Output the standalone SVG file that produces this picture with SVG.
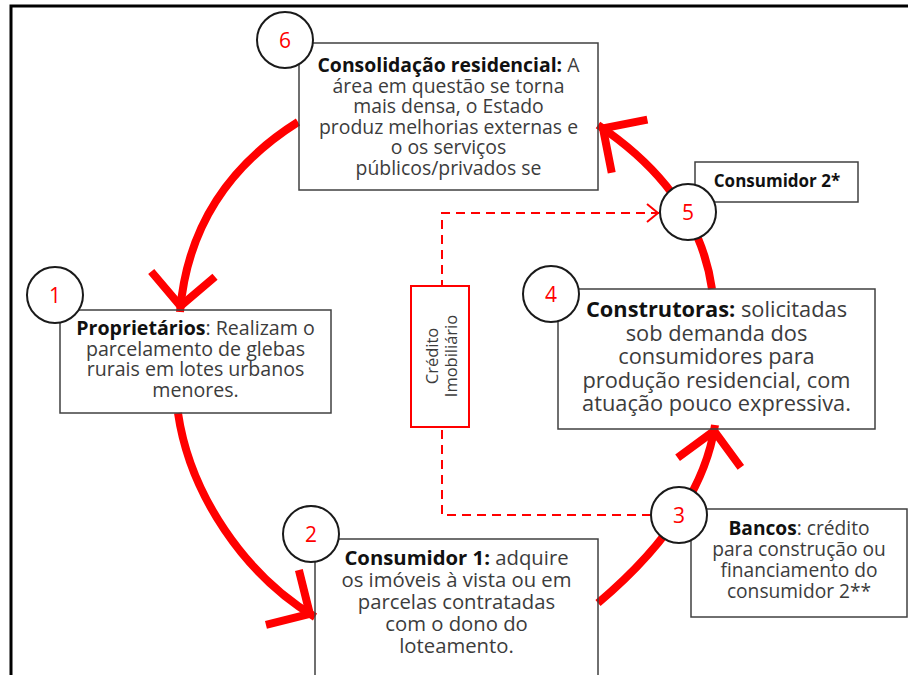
<svg xmlns="http://www.w3.org/2000/svg" width="908" height="675" viewBox="0 0 908 675">
<defs>
<style>
.box{fill:none;stroke:#404040;stroke-width:1.5}
.circ{fill:#fff;stroke:#1a1a1a;stroke-width:2}
.num{font-family:"Open Sans","Liberation Sans",sans-serif;font-size:21px;fill:#ff0000;text-anchor:middle}
.t{font-family:"Open Sans","Liberation Sans",sans-serif;fill:#3c3c3c;text-anchor:middle}
.b{font-weight:bold;fill:#111}
.arc{fill:none;stroke:#ff0000;stroke-width:8;marker-end:url(#big)}
.dash{fill:none;stroke:#ff0000;stroke-width:2;stroke-dasharray:9 6;marker-end:url(#small)}
</style>
<marker id="big" markerUnits="userSpaceOnUse" orient="auto" refX="0" refY="0" markerWidth="80" markerHeight="80" viewBox="-50 -40 60 80" overflow="visible">
<path d="M-38,-32 L-6,0 L-38,32" fill="none" stroke="#ff0000" stroke-width="8" stroke-linejoin="miter"/>
</marker>
<marker id="small" markerUnits="userSpaceOnUse" orient="auto" refX="0" refY="0" markerWidth="30" markerHeight="30" viewBox="-15 -15 30 30" overflow="visible">
<path d="M-12,-9 L-1,0 L-12,9" fill="none" stroke="#ff0000" stroke-width="2"/>
</marker>
</defs>
<rect x="0" y="0" width="908" height="675" fill="#fff"/>
<g id="frame">
<path d="M11,675 V6 H908" fill="none" stroke="#000" stroke-width="3"/>
</g>
<g id="connectors">
<path class="arc" d="M298,122 Q190,190 180,312"/>
<path class="arc" d="M178,413 C190,495 245,575 315,617"/>
<path class="arc" d="M598,603 Q701,516 715,425"/>
<path class="arc" d="M712,289 C705,240 680,180 598,125"/>
<path class="dash" d="M651,515 H442 V213 H659"/>
</g>
<g id="node6">
<rect class="box" x="299" y="43" width="299" height="147"/>
<circle class="circ" cx="285" cy="40" r="28"/>
<text class="num" x="285" y="48">6</text>
<text class="t" font-size="19.4"><tspan x="448.5" y="72"><tspan class="b">Consolidação residencial:</tspan> A</tspan><tspan x="448.5" y="92.5">área em questão se torna</tspan><tspan x="448.5" y="113">mais densa, o Estado</tspan><tspan x="448.5" y="133.5">produz melhorias externas e</tspan><tspan x="448.5" y="154">o os serviços</tspan><tspan x="448.5" y="174.5">públicos/privados se</tspan></text>
</g>
<g id="node1">
<rect class="box" x="60" y="310" width="271" height="103"/>
<circle class="circ" cx="55" cy="295" r="28"/>
<text class="num" x="55" y="303">1</text>
<text class="t" font-size="19.6"><tspan x="195.5" y="335"><tspan class="b">Proprietários</tspan>: Realizam o</tspan><tspan x="195.5" y="355.5">parcelamento de glebas</tspan><tspan x="195.5" y="376">rurais em lotes urbanos</tspan><tspan x="195.5" y="396.5">menores.</tspan></text>
</g>
<g id="node2">
<rect class="box" x="315" y="539" width="283" height="160"/>
<circle class="circ" cx="311" cy="534" r="28"/>
<text class="num" x="311" y="542">2</text>
<text class="t" font-size="20.3"><tspan x="456.5" y="565"><tspan class="b">Consumidor 1:</tspan> adquire</tspan><tspan x="456.5" y="587">os imóveis à vista ou em</tspan><tspan x="456.5" y="609">parcelas contratadas</tspan><tspan x="456.5" y="631">com o dono do</tspan><tspan x="456.5" y="653">loteamento.</tspan></text>
</g>
<g id="node3">
<rect class="box" x="691" y="509" width="216" height="108"/>
<circle class="circ" cx="679" cy="515" r="28"/>
<text class="num" x="679" y="523">3</text>
<text class="t" font-size="19.2"><tspan x="799" y="535"><tspan class="b">Bancos</tspan>: crédito</tspan><tspan x="799" y="556">para construção ou</tspan><tspan x="799" y="577">financiamento do</tspan><tspan x="799" y="598">consumidor 2**</tspan></text>
</g>
<g id="node4">
<rect class="box" x="558" y="289" width="317" height="140"/>
<circle class="circ" cx="551" cy="294" r="28"/>
<text class="num" x="551" y="302">4</text>
<text class="t" font-size="21.8"><tspan x="716.5" y="317"><tspan class="b">Construtoras:</tspan> solicitadas</tspan><tspan x="716.5" y="340.5">sob demanda dos</tspan><tspan x="716.5" y="364">consumidores para</tspan><tspan x="716.5" y="387.5">produção residencial, com</tspan><tspan x="716.5" y="411">atuação pouco expressiva.</tspan></text>
</g>
<g id="node5">
<rect class="box" x="695" y="162" width="163" height="40"/>
<circle class="circ" cx="688" cy="212" r="28"/>
<text class="num" x="688" y="220">5</text>
<text class="t b" font-size="17" x="777" y="187">Consumidor 2*</text>
</g>
<g id="credito">
<rect x="411" y="286" width="58" height="141" fill="#fff" stroke="#ff0000" stroke-width="2"/>
<text class="t" font-size="16.5" transform="translate(440,356) rotate(-90)"><tspan x="0" y="-2">Crédito</tspan><tspan x="0" y="17">Imobiliário</tspan></text>
</g>
</svg>
